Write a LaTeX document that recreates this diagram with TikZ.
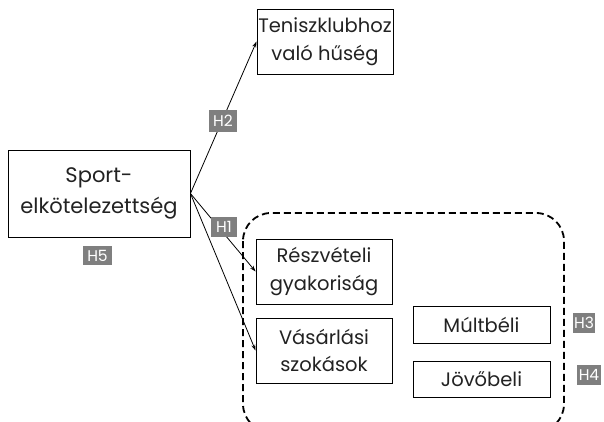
\documentclass[tikz,border=0pt]{standalone}
\usepackage{fontspec}
\setmainfont{Poppins}
\usetikzlibrary{arrows.meta}
\definecolor{taggray}{HTML}{7F7F7F}
\definecolor{ink}{HTML}{222222}
\begin{document}
\begin{tikzpicture}[x=1pt,y=-1pt,
  box/.style={draw=black, text=ink, line width=0.9pt, inner sep=0pt, align=center, font=\fontsize{19.5}{27.5}\selectfont},
  tag/.style={fill=taggray, text=white, inner sep=0pt, font=\fontsize{15.5}{16}\selectfont},
  link/.style={line width=0.8pt, -{Stealth[length=6pt,width=4pt]}}]
\useasboundingbox (0,0) rectangle (604,421);
% grouping frame for the behavioural outcomes
\draw[line width=1.8pt, dash pattern=on 7pt off 4pt, rounded corners=28pt]
  (243,213) rectangle (564,432);
% boxes
\node[box, minimum width=182pt, minimum height=87pt, font=\fontsize{21}{31}\selectfont] (sport) at (99,193.5) {Sport-\\elkötelezettség};
\node[box, minimum width=136pt, minimum height=65pt] (ten) at (325,41.5) {Teniszklubhoz\\való hűség};
\node[box, minimum width=136pt, minimum height=65pt] (resz) at (324,271.5) {Részvételi\\gyakoriság};
\node[box, minimum width=136pt, minimum height=65pt] (vas) at (324,350.5) {Vásárlási\\szokások};
\node[box, minimum width=137pt, minimum height=37pt] (mult) at (481.5,324.5) {Múltbéli};
\node[box, minimum width=137pt, minimum height=36pt] (jov) at (481.5,379) {Jövőbeli};
% hypothesis links
\draw[link] (sport.east) -- (ten.west);
\draw[link] (sport.east) -- (resz.west);
\draw[link] (sport.east) -- (vas.west);
% hypothesis tags
\node[tag, minimum width=28pt, minimum height=22pt] (h2) at (223,121) {H2};
\node[tag, minimum width=26pt, minimum height=20pt] (h1) at (224,227) {H1};
\node[tag, minimum width=29pt, minimum height=19pt] (h5) at (97.5,255.5) {H5};
\node[tag, minimum width=22pt, minimum height=20pt] (h3) at (584,323) {H3};
\node[tag, minimum width=24pt, minimum height=20pt] (h4) at (589,375) {H4};
\end{tikzpicture}
\end{document}
